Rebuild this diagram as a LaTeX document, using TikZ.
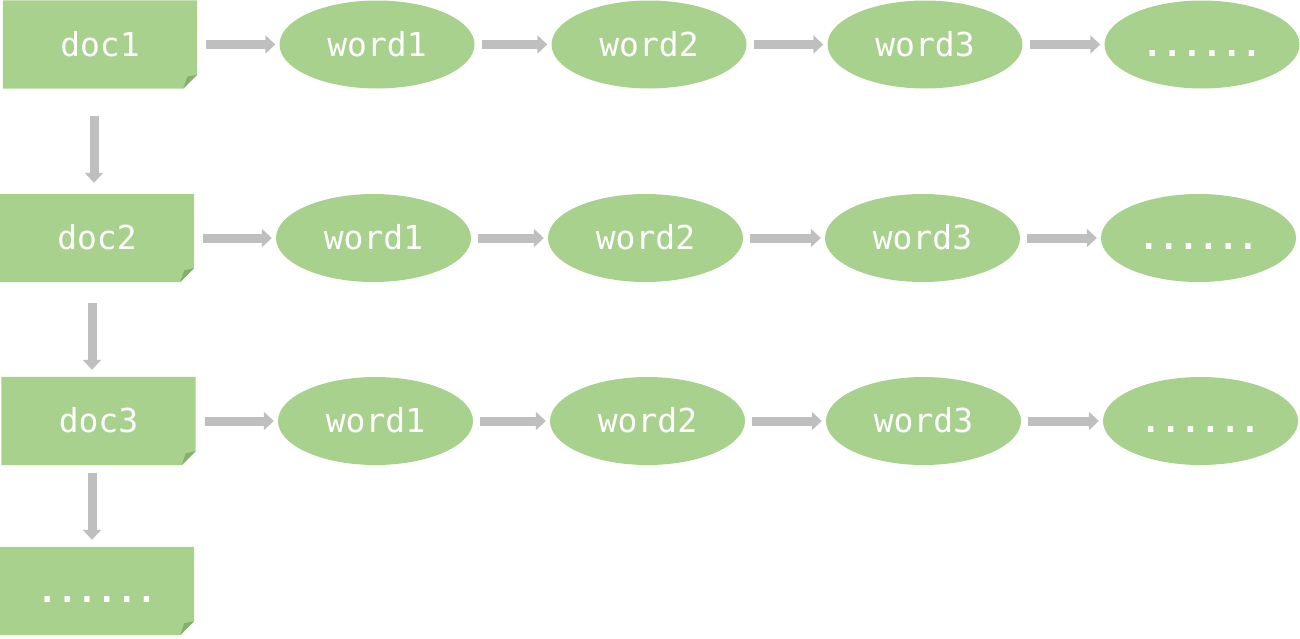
\documentclass[tikz,border=0pt]{standalone}
\usepackage{fontspec}
\setmonofont{DejaVu Sans Mono}
\usetikzlibrary{arrows.meta,shapes.geometric,calc,backgrounds}
\definecolor{gfill}{HTML}{A9D18E}
\definecolor{gfold}{HTML}{88B06C}
\definecolor{agray}{HTML}{BFBFBF}
\newcommand{\dotrow}{{\bfseries ......}}
\begin{document}
\begin{tikzpicture}[x=1pt,y=-1pt,
  lbl/.style={text=white,font=\ttfamily\fontsize{33}{33}\selectfont,text height=25pt,text depth=2pt},
  wordnode/.style={lbl,ellipse,fill=gfill,minimum width=195pt,minimum height=88pt,inner sep=0pt},
  docnode/.style={lbl,rectangle,minimum width=194pt,minimum height=88pt,inner sep=0pt},
  conn/.style={draw=agray,line width=9pt,-{Triangle[width=18pt,length=10pt]}},
  hconn/.style={conn,shorten <=7pt,shorten >=4pt}]
\useasboundingbox (0,0) rectangle (1300,638);
% docs
\node[docnode] (d1) at (100,44.5) {doc1};
\node[docnode] (d2) at (97,238) {doc2};
\node[docnode] (d3) at (98.5,421) {doc3};
\node[docnode] (d4) at (97,591) {\dotrow};
\begin{pgfonlayer}{background}
\foreach \n in {d1,d2,d3,d4}{
  \fill[gfill] (\n.north west) -- (\n.north east) -- ($(\n.south east)+(0,-14)$)
     -- ($(\n.south east)+(-14,0)$) -- (\n.south west) -- cycle;
  \fill[gfold] ($(\n.south east)+(0,-14)$) -- ($(\n.south east)+(-14,0)$)
     -- ($(\n.south east)+(-10,-12)$) -- cycle;
}
\end{pgfonlayer}
% words row 1
\node[wordnode] (a1) at (377,44.5) {word1};
\node[wordnode] (a2) at (649,44.5) {word2};
\node[wordnode] (a3) at (925,44.5) {word3};
\node[wordnode] (a4) at (1202,44.5) {\dotrow};
% row 2
\node[wordnode] (b1) at (373.5,238) {word1};
\node[wordnode] (b2) at (645.5,238) {word2};
\node[wordnode] (b3) at (922.5,238) {word3};
\node[wordnode] (b4) at (1198.5,238) {\dotrow};
% row 3
\node[wordnode] (c1) at (375.5,421) {word1};
\node[wordnode] (c2) at (647.5,421) {word2};
\node[wordnode] (c3) at (923.5,421) {word3};
\node[wordnode] (c4) at (1200.5,421) {\dotrow};
% horizontal connectors
\draw[hconn,shorten <=9pt] (d1) -- (a1);
\draw[hconn] (a1) -- (a2);
\draw[hconn] (a2) -- (a3);
\draw[hconn] (a3) -- (a4);
\draw[hconn,shorten <=9pt] (d2) -- (b1);
\draw[hconn] (b1) -- (b2);
\draw[hconn] (b2) -- (b3);
\draw[hconn] (b3) -- (b4);
\draw[hconn,shorten <=9pt] (d3) -- (c1);
\draw[hconn] (c1) -- (c2);
\draw[hconn] (c2) -- (c3);
\draw[hconn] (c3) -- (c4);
% vertical connectors
\draw[conn] ($(d1.south)+(-6,27)$) -- ($(d2.north)+(-3,-11)$);
\draw[conn] ($(d2.south)+(-5,21)$) -- ($(d3.north)+(-6.5,-7)$);
\draw[conn] ($(d3.south)+(-6.5,8)$) -- ($(d4.north)+(-5,-7)$);
\end{tikzpicture}
\end{document}
